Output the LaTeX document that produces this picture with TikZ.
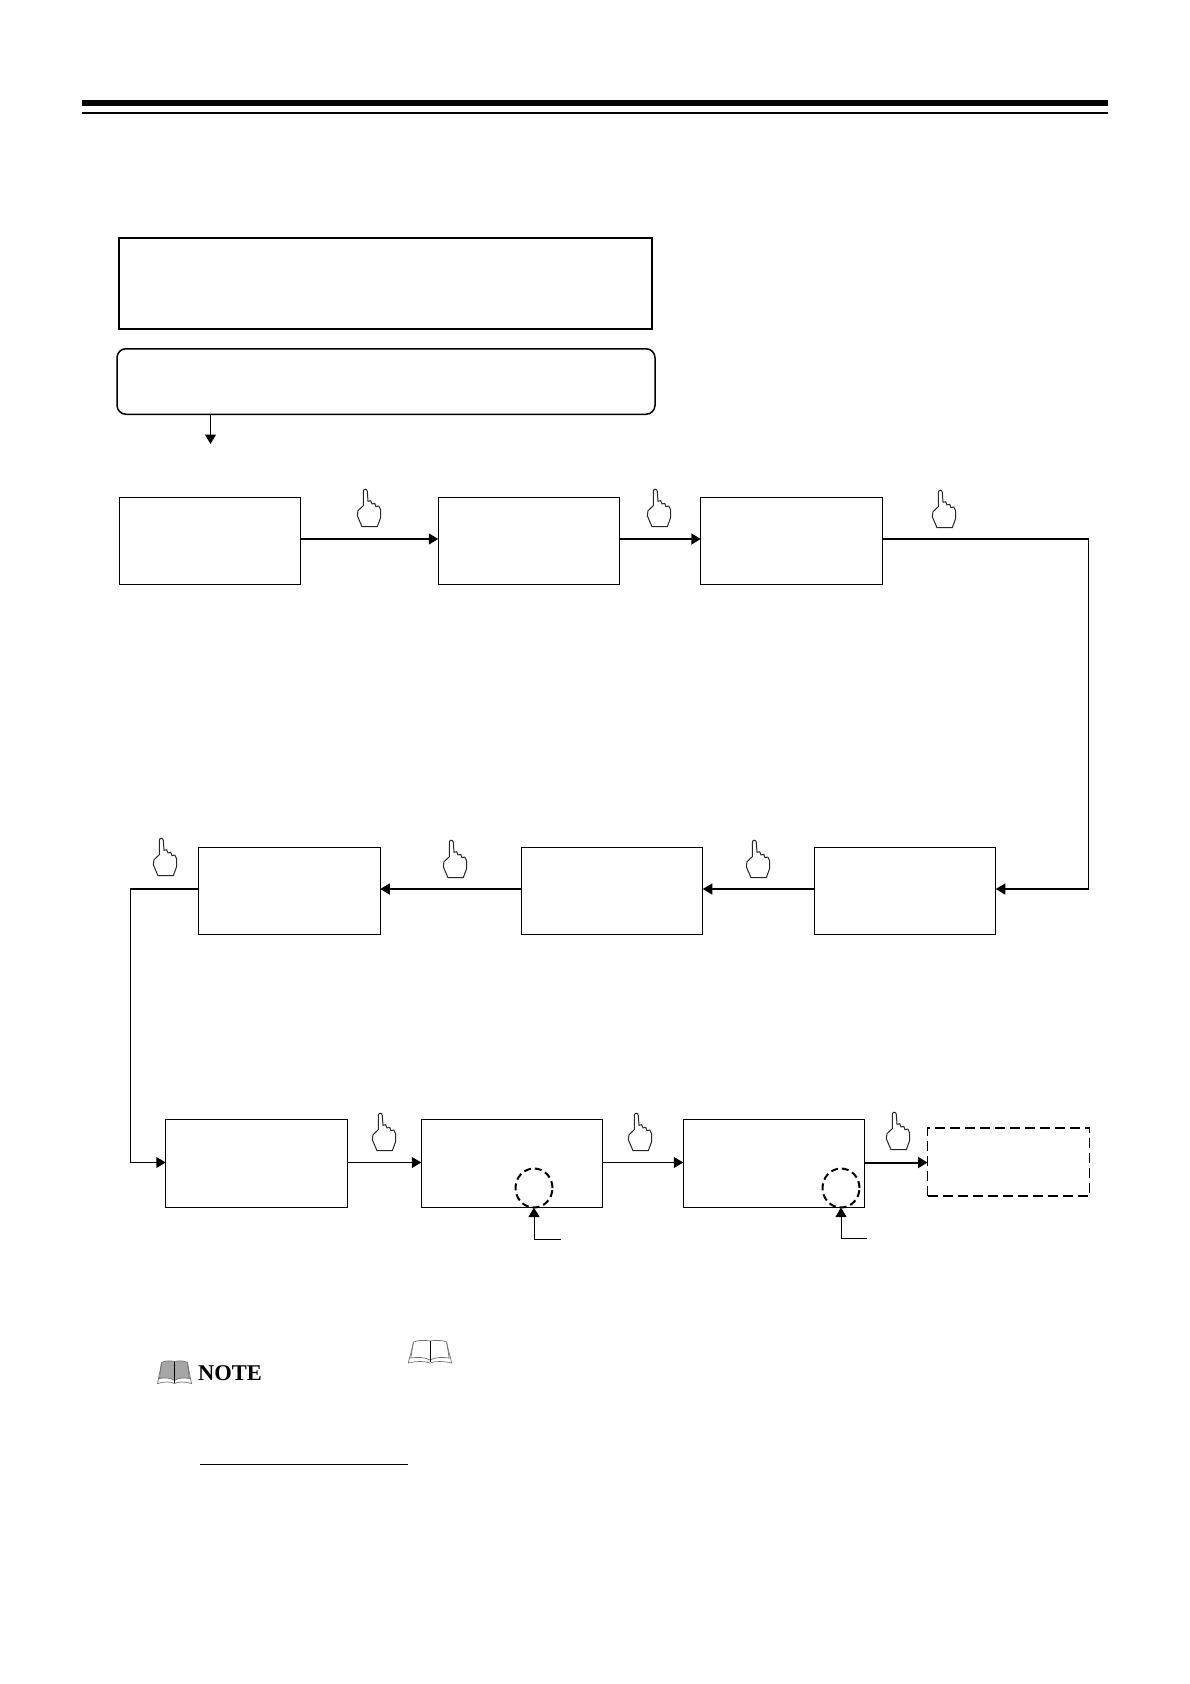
\documentclass[tikz,border=0pt]{standalone}
\usepackage{fontspec}
\setmainfont{Liberation Serif}
\usetikzlibrary{shapes.geometric, arrows.meta}
\tikzstyle{block} = [rectangle, draw, line width=1.1pt, outer sep=0pt, minimum height=87.5pt, minimum width=181.5pt]
\tikzstyle{target} = [rectangle, draw, line width=1.6pt, dashed, dash pattern=on 10pt off 5pt, outer sep=0pt, minimum height=68pt, minimum width=162pt]
\tikzstyle{banner} = [rectangle, draw, line width=2.2pt, outer sep=0pt, minimum height=91pt, minimum width=533.5pt]
\tikzstyle{prompt} = [rectangle, rounded corners=9pt, draw, line width=1.5pt, outer sep=0pt, minimum height=65.5pt, minimum width=538pt]
\tikzstyle{ring} = [ellipse, draw, line width=2pt, dash pattern=on 7pt off 4pt, outer sep=0pt, minimum height=39pt, minimum width=37pt]
\tikzstyle{arrow} = [line width=1.2pt,-{Triangle[length=9.5pt,width=11pt]}]
\tikzstyle{heavy} = [line width=2pt,-{Triangle[length=9.5pt,width=11pt]}]
\tikzstyle{rule} = [line width=1pt]
\tikzset{
  fingerhand/.pic={
    \draw [line width=1pt, black!85, line join=round] (-5.7,-2.3) -- (-5.7,-16.7) .. controls (-5.5,-19.5) and (-2,-19.5) .. (-1.7,-16.7)
      -- (-1,-6.7) -- (1.7,-7.3) -- (3,-4) -- (5.7,-4.7) -- (7,-1.3) -- (9.7,-2) -- (11.7,2) -- (11.7,9.3)
      -- (8.3,18.7) -- (-7,18.7) -- (-11.7,7.7) -- (-11,2.7) -- cycle;
  },
  openbook/.pic={
    \path [pic actions] (0,-11) .. controls (-5,-12) and (-9,-12) .. (-13,-10) -- (-15,6) .. controls (-10,5) and (-4,5) .. (0,8)
      .. controls (4,5) and (10,5) .. (15,6) -- (13,-10) .. controls (9,-12) and (5,-12) .. (0,-11) -- cycle;
    \draw [line width=0.7pt, black!55] (-13,-10) -- (-15,6) .. controls (-10,5) and (-4,5) .. (0,8)
      .. controls (4,5) and (10,5) .. (15,6) -- (13,-10) .. controls (9,-12) and (5,-12) .. (0,-11) .. controls (-5,-12) and (-9,-12) .. (-13,-10);
    \draw [line width=0.7pt, black!55] (-13,-9) -- (-17,11) .. controls (-10,9) and (-4,9) .. (0,11)
      .. controls (4,9) and (10,9) .. (17,11) -- (13,-9);
    \draw [line width=1pt] (0,-11) -- (0,10);
  }
}

\begin{document}
\begin{tikzpicture}[x=1pt, y=-1pt, node distance=100pt]
    \useasboundingbox (0,0) rectangle (1190,1684);

    % Header rules
    \draw [line width=6.5pt] (82,103) -- (1108,103);
    \draw [line width=2pt] (82,113) -- (1108,113);

    % Top boxes
    \node (banner) [banner] at (385.5,283.5) {};
    \node (prompt) [prompt] at (386,381.5) {};
    \coordinate (promptend) at (210.5,444);

    % First row
    \node (boxa) [block] at (210,541) {};
    \node (boxb) [block, right of=boxa, xshift=219pt] {};
    \node (boxc) [block, right of=boxb, xshift=162.5pt] {};

    % Second row
    \node (boxd) [block] at (289.5,891) {};
    \node (boxe) [block, right of=boxd, xshift=222.5pt] {};
    \node (boxf) [block, right of=boxe, xshift=193pt] {};

    % Third row
    \node (boxg) [block] at (256.5,1163.5) {};
    \node (boxh) [block, right of=boxg, xshift=155.5pt] {};
    \node (boxi) [block, right of=boxh, xshift=162pt] {};
    \node (boxj) [target, right of=boxi, xshift=134.5pt, yshift=1.5pt] {};

    % Marked spots
    \node (ringh) [ring] at (534,1188) {};
    \node (ringi) [ring] at (841,1188) {};
    \coordinate (leadh) at (561,1239.5);
    \coordinate (leadi) at (867,1238.5);

    % ==== Arrows
    \draw [arrow] (prompt.south -| promptend) -- (promptend);
    \draw [arrow] ([yshift=2pt]boxa.east) -- ([yshift=2pt]boxb.west);
    \draw [heavy] ([yshift=2pt]boxb.east) -- ([yshift=2pt]boxc.west);
    \draw [arrow] ([yshift=2pt]boxc.east) -- ++(206pt,0pt) |- ([yshift=2pt]boxf.east);
    \draw [arrow] ([yshift=2pt]boxf.west) -- ([yshift=2pt]boxe.east);
    \draw [arrow] ([yshift=2pt]boxe.west) -- ([yshift=2pt]boxd.east);
    \draw [arrow] ([yshift=2pt]boxd.west) -- ++(-68pt,0pt) |- ([yshift=1pt]boxg.west);
    \draw [arrow] ([yshift=1pt]boxg.east) -- ([yshift=1pt]boxh.west);
    \draw [arrow] ([yshift=1pt]boxh.east) -- ([yshift=1pt]boxi.west);
    \draw [heavy] ([yshift=1pt]boxi.east) -- ([yshift=1pt]boxj.west |- boxi.east);

    % Leaders
    \draw [arrow, line width=1pt] (leadh) -| (ringh.south);
    \draw [arrow, line width=1pt] (leadi) -| (ringi.south);

    % Hands
    \pic at (369,508) {fingerhand};
    \pic at (659,508) {fingerhand};
    \pic at (944,509) {fingerhand};
    \pic at (165,857) {fingerhand};
    \pic at (455,859) {fingerhand};
    \pic at (758,859) {fingerhand};
    \pic at (384,1132) {fingerhand};
    \pic at (640,1132) {fingerhand};
    \pic at (898,1131) {fingerhand};

    % Note
    \pic [fill=black!35] at (174.5,1372.5) {openbook};
    \node (note) [anchor=base west, inner sep=0pt, font=\fontsize{22.5}{24}\selectfont\bfseries] at (198,1380) {NOTE};
    \pic [xscale=1.28, fill=white] at (430,1352) {openbook};
    \draw [rule] (200,1464) -- (408,1464);

\end{tikzpicture}
\end{document}
